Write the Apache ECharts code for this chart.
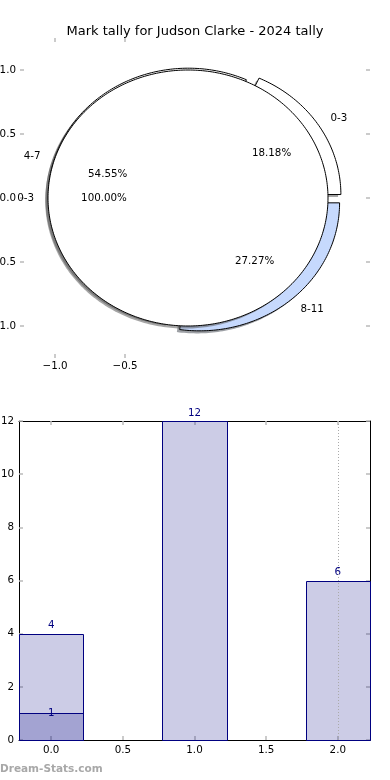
<!DOCTYPE html>
<html><head><meta charset="utf-8">
<script src="https://cdn.jsdelivr.net/npm/echarts@6/dist/echarts.min.js"></script>
<style>html,body{margin:0;padding:0;background:#fff}#c{width:390px;height:780px}</style>
</head><body><div id="c"></div>
<script>
// ---- data ----
const titleText = 'Mark tally for Judson Clarke - 2024 tally';
const categories = ['0-3', '4-7', '8-11'];
const counts = [4, 12, 6];
const innerCategories = ['0-3'];
const innerCounts = [1];
const barPositions = [0, 1, 2];
const innerPositions = [0];
const pieXTicks = [-1.0, -0.5];
const pieYTicks = [-1.0, -0.5, 0.0, 0.5, 1.0];
const barXTicks = [0, 0.5, 1, 1.5, 2];
const gridLinePositions = [2];
const watermark = 'Dream-Stats.com';

// ---- styles ----
const FONT = '"DejaVu Sans", sans-serif';
const FS = 10.3;
const outerColors = ['#ffffff', '#ffffff', '#c6d9fd'];
const innerColors = ['#ffffff'];
const EXPLODE = 0.05;
const R = 1;
const HALF = 0.225;
const TICK = '#bbbbbb';

function fmt(v) { return (v < 0 ? '\u2212' : '') + Math.abs(v).toFixed(1); }

const wedges = [];
function addRing(names, vals, colors) {
  const total = vals.reduce((a, b) => a + b, 0);
  let a = 0;
  vals.forEach((v, i) => {
    const sweep = 360 * v / total;
    wedges.push({ name: names[i], value: v, pct: 100 * v / total, a0: a, a1: a + sweep, color: colors[i] });
    a += sweep;
  });
}
addRing(categories, counts, outerColors);
addRing(innerCategories, innerCounts, innerColors);

function shadowOf(hex) {
  const r = parseInt(hex.slice(1, 3), 16), g = parseInt(hex.slice(3, 5), 16), b = parseInt(hex.slice(5, 7), 16);
  return 'rgba(' + Math.round(r * 0.3) + ',' + Math.round(g * 0.3) + ',' + Math.round(b * 0.3) + ',0.5)';
}

function renderWedge(params, api) {
  const i = params.dataIndex;
  const w = wedges[i];
  const mid = (w.a0 + w.a1) / 2 * Math.PI / 180;
  const cx = EXPLODE * Math.cos(mid), cy = EXPLODE * Math.sin(mid);
  const full = (w.a1 - w.a0) >= 359.999;
  function pts(ox, oy) {
    const arr = [];
    if (!full) arr.push(api.coord([cx + ox, cy + oy]));
    const n = Math.max(8, Math.ceil(w.a1 - w.a0));
    for (let k = 0; k <= n; k++) {
      const t = (w.a0 + (w.a1 - w.a0) * k / n) * Math.PI / 180;
      arr.push(api.coord([cx + ox + R * Math.cos(t), cy + oy + R * Math.sin(t)]));
    }
    return arr;
  }
  const lp = api.coord([cx + 1.1 * Math.cos(mid), cy + 1.1 * Math.sin(mid)]);
  const pp = api.coord([cx + 0.6 * Math.cos(mid), cy + 0.6 * Math.sin(mid)]);
  const labelLeft = (cx + 1.1 * Math.cos(mid)) > 0;
  return {
    type: 'group',
    children: [
      { type: 'polygon', z2: i * 10, shape: { points: pts(-0.02, -0.02) }, style: { fill: shadowOf(w.color) } },
      { type: 'polygon', z2: i * 10 + 1, shape: { points: pts(0, 0) }, style: { fill: w.color, stroke: '#000', lineWidth: 1 } },
      { type: 'text', z2: 200, x: lp[0], y: lp[1], style: { text: w.name, fill: '#000', font: FS + 'px ' + FONT, align: labelLeft ? 'left' : 'right', verticalAlign: 'middle' } },
      { type: 'text', z2: 200, x: pp[0], y: pp[1], style: { text: w.pct.toFixed(2) + '%', fill: '#000', font: FS + 'px ' + FONT, align: 'center', verticalAlign: 'middle' } }
    ]
  };
}

function makeBarRenderer(labelMode) {
  return function (params, api) {
    const x = api.value(0), v = api.value(1);
    const p0 = api.coord([x - HALF, v]);
    const p1 = api.coord([x + HALF, 0]);
    const x0 = Math.round(p0[0]) + 0.5, x1 = Math.round(p1[0]) + 0.5;
    const y0 = Math.round(p0[1]) + 0.5, y1 = Math.round(p1[1]) + 0.5;
    const lc = api.coord([x, v]);
    return {
      type: 'group',
      children: [
        { type: 'rect', shape: { x: x0, y: y0, width: x1 - x0, height: y1 - y0 }, style: { fill: 'rgba(0,0,128,0.2)', stroke: '#000080', lineWidth: 1 } },
        { type: 'text', z2: 50, x: lc[0], y: labelMode === 'top' ? lc[1] - 3 : lc[1], style: { text: String(v), fill: '#000080', font: FS + 'px ' + FONT, align: 'center', verticalAlign: labelMode === 'top' ? 'bottom' : 'middle' } }
      ]
    };
  };
}

const chart = echarts.init(document.getElementById('c'), null, { renderer: 'canvas' });

const tickStyle = { show: true, inside: true, length: 4, lineStyle: { color: TICK, width: 1.5 } };
const labelBase = { fontSize: FS, fontFamily: FONT, color: '#000' };
const hiddenLine = { show: true, onZero: false, lineStyle: { color: 'rgba(0,0,0,0)', width: 1 } };

chart.setOption({
  animation: false,
  backgroundColor: '#fff',
  title: { text: titleText, left: 'center', top: 20, textStyle: { fontSize: 13, fontWeight: 'normal', fontFamily: FONT, color: '#000' } },
  graphic: [
    { type: 'text', left: 0, top: 764, style: { text: watermark, fill: '#a8a8a8', font: 'bold 10.5px ' + FONT } }
  ],
  grid: [
    { left: 20, top: 38, width: 350, height: 320, containLabel: false, outerBoundsMode: 'none' },
    { left: 19, top: 421, width: 351, height: 319, containLabel: false, outerBoundsMode: 'none' }
  ],
  xAxis: [
    { gridIndex: 0, type: 'value', position: 'bottom', min: -1.25, max: 1.25,
      axisLine: hiddenLine, splitLine: { show: false },
      axisTick: Object.assign({}, tickStyle, { customValues: pieXTicks }),
      axisLabel: Object.assign({}, labelBase, { customValues: pieXTicks, formatter: fmt, margin: 3 }) },
    { gridIndex: 0, type: 'value', position: 'top', min: -1.25, max: 1.25,
      axisLine: hiddenLine, splitLine: { show: false },
      axisTick: Object.assign({}, tickStyle, { customValues: pieXTicks }),
      axisLabel: { show: false } },
    { gridIndex: 1, type: 'value', position: 'bottom', min: -HALF, max: 2 + HALF,
      axisLine: { show: true, onZero: false, lineStyle: { color: '#000', width: 1 } }, splitLine: { show: false },
      axisTick: Object.assign({}, tickStyle, { customValues: barXTicks }),
      axisLabel: Object.assign({}, labelBase, { customValues: barXTicks, formatter: fmt, margin: 5 }) },
    { gridIndex: 1, type: 'value', position: 'top', min: -HALF, max: 2 + HALF,
      axisLine: { show: true, onZero: false, lineStyle: { color: '#000', width: 1 } }, splitLine: { show: false },
      axisTick: Object.assign({}, tickStyle, { customValues: barXTicks }),
      axisLabel: { show: false } }
  ],
  yAxis: [
    { gridIndex: 0, type: 'value', position: 'left', min: -1.25, max: 1.25,
      axisLine: hiddenLine, splitLine: { show: false },
      axisTick: Object.assign({}, tickStyle, { customValues: pieYTicks }),
      axisLabel: Object.assign({}, labelBase, { customValues: pieYTicks, formatter: fmt, margin: 4 }) },
    { gridIndex: 0, type: 'value', position: 'right', min: -1.25, max: 1.25,
      axisLine: hiddenLine, splitLine: { show: false },
      axisTick: Object.assign({}, tickStyle, { customValues: pieYTicks }),
      axisLabel: { show: false } },
    { gridIndex: 1, type: 'value', position: 'left', min: 0, max: 12, interval: 2,
      axisLine: { show: true, onZero: false, lineStyle: { color: '#000', width: 1 } }, splitLine: { show: false },
      axisTick: Object.assign({}, tickStyle),
      axisLabel: Object.assign({}, labelBase, { margin: 5 }) },
    { gridIndex: 1, type: 'value', position: 'right', min: 0, max: 12, interval: 2,
      axisLine: { show: true, onZero: false, lineStyle: { color: '#000', width: 1 } }, splitLine: { show: false },
      axisTick: Object.assign({}, tickStyle),
      axisLabel: { show: false } }
  ],
  series: [
    { type: 'custom', name: 'pie', coordinateSystem: 'cartesian2d', xAxisIndex: 0, yAxisIndex: 0,
      data: wedges.map(w => [w.value]), renderItem: renderWedge, silent: true },
    { type: 'custom', name: 'tally', coordinateSystem: 'cartesian2d', xAxisIndex: 2, yAxisIndex: 2,
      data: barPositions.map((p, i) => [p, counts[i]]), renderItem: makeBarRenderer('top'), silent: true,
      markLine: { silent: true, symbol: ['none', 'none'], label: { show: false },
        lineStyle: { type: [1, 2], color: '#aaaaaa', width: 1 },
        data: gridLinePositions.map(p => ({ xAxis: p })) } },
    { type: 'custom', name: 'inner', coordinateSystem: 'cartesian2d', xAxisIndex: 2, yAxisIndex: 2,
      data: innerPositions.map((p, i) => [p, innerCounts[i]]), renderItem: makeBarRenderer('mid'), silent: true }
  ]
});
</script></body></html>
